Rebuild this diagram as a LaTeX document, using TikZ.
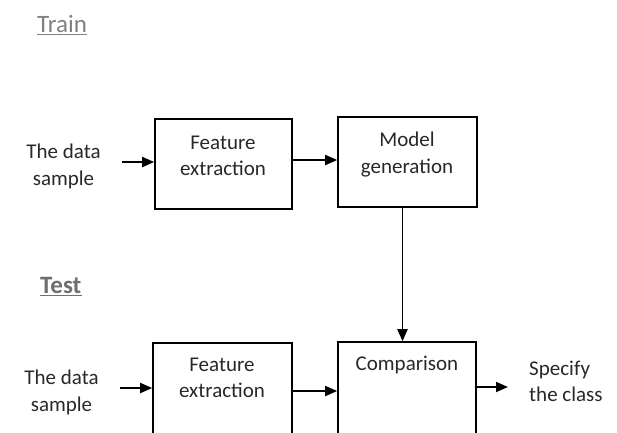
\documentclass[tikz,border=0pt]{standalone}
\usepackage{fontspec}
\setmainfont{Carlito}
\usetikzlibrary{arrows.meta}
\definecolor{txtc}{HTML}{282828}
\definecolor{trainc}{HTML}{808080}
\definecolor{testc}{HTML}{6E6E6E}
\begin{document}
\begin{tikzpicture}[x=1pt,y=-1pt,
  box/.style={draw=black, line width=1.6pt, inner sep=0pt},
  txt/.style={inner sep=0pt, align=center, text=txtc, font=\fontsize{21}{26.5}\selectfont},
  head/.style={inner sep=0pt, font=\fontsize{25}{30}\selectfont},
  arr/.style={line width=1.9pt, -{Triangle[length=12pt,width=10pt]}}]
\useasboundingbox (0,0) rectangle (617,432);
\clip (0,0) rectangle (617,432);
% headings
\node[head, text=trainc, anchor=base west] (train) at (37,32) {Train};
\draw[trainc, line width=1.2pt] ([yshift=-2.5pt]train.base west) -- ([yshift=-2.5pt]train.base east);
\node[head, text=testc, anchor=base west, font=\fontsize{25}{30}\selectfont\bfseries] (test) at (40,293) {Test};
\draw[testc, line width=1.4pt] ([yshift=-2.5pt]test.base west) -- ([yshift=-2.5pt]test.base east);
% boxes
\node[box, minimum width=137pt, minimum height=90pt] (fe1) at (223.5,164) {};
\node[box, minimum width=139pt, minimum height=90pt] (mg) at (407.5,162) {};
\node[box, minimum width=139pt, minimum height=101pt] (fe2) at (222.5,393.5) {};
\node[box, minimum width=138pt, minimum height=102pt] (cmp) at (407,393) {};
% texts
\node[txt] (fe1t) at (223,156) {Feature\\extraction};
\node[txt] (mgt) at (407,154.5) {Model\\generation};
\node[txt] (fe2t) at (222,378) {Feature\\extraction};
\node[txt, anchor=base] (cmpt) at (407,370) {Comparison};
\node[txt] (ds1) at (63.5,166.5) {The data\\sample};
\node[txt] (ds2) at (61.5,392.5) {The data\\sample};
\node[txt, align=left, anchor=west] (cls) at (529,381.5) {Specify\\the class};
% connectors
\coordinate (s1) at (122,162);
\coordinate (s2) at (120,388);
\coordinate (e6) at (508,387);
\draw[arr] (s1) -- (s1 -| fe1.west);
\draw[arr] ([yshift=4pt]fe1.east) -- ([yshift=4pt]fe1.east -| mg.west);
\draw[arr] ([xshift=-5pt]mg.south) -- ([xshift=-5pt]mg.south |- cmp.north);
\draw[arr] (s2) -- (s2 -| fe2.west);
\draw[arr] ([yshift=2.5pt]fe2.east) -- ([yshift=2.5pt]fe2.east -| cmp.west);
\draw[arr] (e6 -| cmp.east) -- (e6);
\end{tikzpicture}
\end{document}
